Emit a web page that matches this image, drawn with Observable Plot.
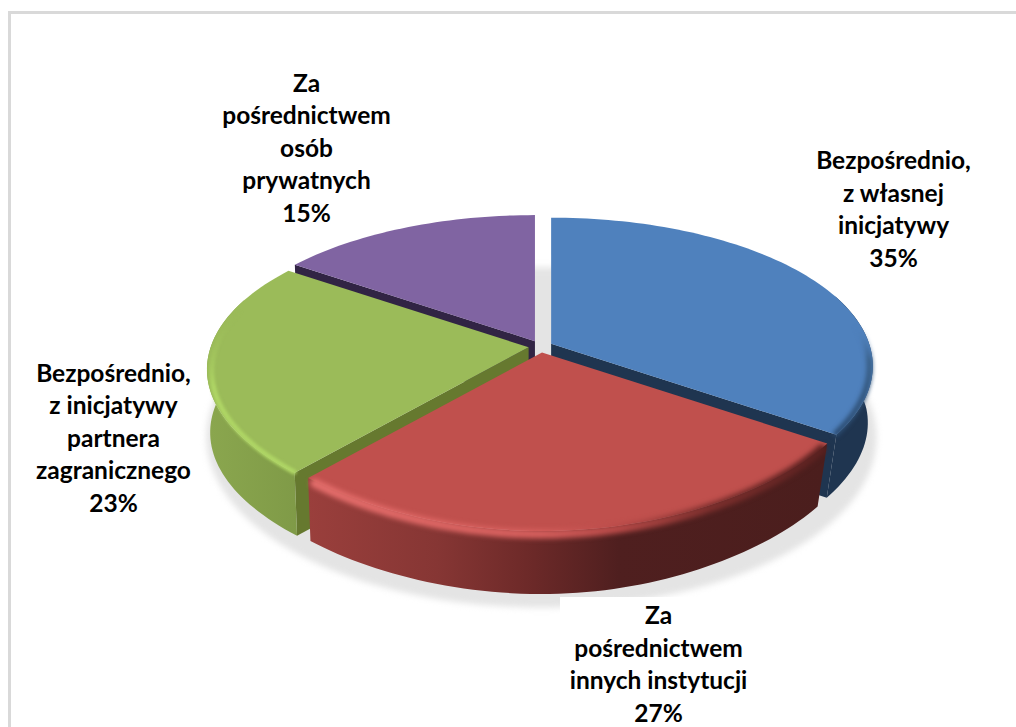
<!DOCTYPE html>
<html><head><meta charset="utf-8">
<script src="https://cdn.jsdelivr.net/npm/d3@7"></script>
<script src="https://cdn.jsdelivr.net/npm/@observablehq/plot@0.6"></script>
<style>
html,body{margin:0;padding:0;background:#fff;width:1016px;height:727px;overflow:hidden}
#frame{position:absolute;left:8px;top:11px;width:1100px;height:800px;border-left:3px solid #d9d9d9;border-top:3px solid #d9d9d9}
#chart{position:absolute;left:0;top:0}
</style></head><body>
<div id="frame"></div><div id="chart"></div>
<script>
// data
const categories = ["Bezpośrednio,\nz własnej\ninicjatywy","Za\npośrednictwem\ninnych instytucji","Bezpośrednio,\nz inicjatywy\npartnera\nzagranicznego","Za\npośrednictwem\nosób\nprywatnych"];
const values = [34.7,26.6,23.4,15.3];
const topColors = ["#4f81bd","#c0504d","#9bbb59","#8064a2"];
const sideColors = ["#1f3550","#5a2120","#66792f","#312444"];

// label placement (layout only)
const labelX = [893,658,113,306], labelY = [207,662,436,146];

// pie model
const cx=540, cy=346, R=318, T=145, k=0.15, H=63, ex=12, ey=6;
const total=d3.sum(values), rad=Math.PI/180;
let acc=0;
const slices=values.map((v,i)=>{const a0=acc/total*360; acc+=v; const a1=acc/total*360; const m=(a0+a1)/2;
  return {i,a0,a1,ox:cx+ex*Math.sin(m*rad),oy:cy-ey*Math.cos(m*rad)};});
const P=(s,a,r=1,h=0)=>{const c=Math.cos(a*rad),sn=Math.sin(a*rad),f=1/(1+k*c);
  const sq=h>=H&&sn>0&&c<0?1+0.042*c:1;               // lower rim tucks in on the right
  const bulge=c<0?8*Math.pow(-c,6)*r:0;               // nearest edge reads a little deeper
  return {x:s.ox+R*r*f*sn*(h?0.99:1)*sq,y:s.oy-T*r*f*c+bulge+h};};
const arc=(s,a0,a1,r=1,h=0)=>{const n=Math.max(2,Math.ceil(Math.abs(a1-a0)/1.5));
  return d3.range(n+1).map(j=>P(s,a0+(a1-a0)*j/n,r,h));};
const topPoly=s=>[{x:s.ox,y:s.oy},...arc(s,s.a0,s.a1)];
const wallPoly=s=>{const a=Math.max(s.a0,70),b=Math.min(s.a1,290); if(b<=a) return null;
  return [...arc(s,a,b),...arc(s,b,a,1,H)];};
const sidePoly=(s,a)=>[{x:s.ox,y:s.oy},P(s,a),P(s,a,1,H),{x:s.ox,y:s.oy+H}];
const shadow=d3.range(0,361,2).map(a=>({x:cx+1+335*Math.sin(a*rad),y:437-170*Math.cos(a*rad)}));

function gradient(defs,id,stops,x1,x2,y1=0,y2=0){
  const g=defs.append("linearGradient").attr("id",id).attr("gradientUnits","userSpaceOnUse")
    .attr("x1",x1).attr("x2",x2).attr("y1",y1).attr("y2",y2);
  stops.forEach(([o,c,op=1])=>g.append("stop").attr("offset",o).attr("stop-color",c).attr("stop-opacity",op));
}
const defsMark=()=>{const d=d3.create("svg:defs");
  gradient(d,"wallRed",[[0,"#9a3f3c"],[.25,"#863634"],[.42,"#6e2a29"],[.6,"#4f1f1f"],[1,"#4b1e1d"]],308,825);
  gradient(d,"wallGreen",[[0,"#8aa64e"],[1,"#7f9a47"]],210,300);
  gradient(d,"rimRed",[[0,"#e56e6c"],[.45,"#d65f5d"],[.6,"#b84a48"],[.78,"#7c2f2d"],[1,"#5a2120"]],308,825);
  gradient(d,"rimGreen",[[0,"#9bbb59",0],[.45,"#afd665"],[1,"#afd665"]],0,0,310,480);
  gradient(d,"rimBlue",[[0,"#4f81bd",0],[.3,"#3a6088"],[1,"#2a4a70"]],0,0,325,440);
  return d.node();};

const marks=[defsMark,
  Plot.line(shadow,{x:"x",y:"y",fill:"#e4e4e4",stroke:"none",imageFilter:"blur(3px)"})];
const poly=(pts,fill)=>Plot.line(pts,{x:"x",y:"y",fill,stroke:"none"});
const rim=(pts,stroke,w=6,b=1.6)=>Plot.line(pts,{x:"x",y:"y",stroke,strokeWidth:w,imageFilter:`blur(${b}px)`});

// painter's order: back to front
const [blue,red,green,purple]=slices;
marks.push(poly(sidePoly(purple,purple.a0),sideColors[3]),poly(topPoly(purple),topColors[3]));
marks.push(poly(wallPoly(blue),sideColors[0]),poly(sidePoly(blue,blue.a1),sideColors[0]),poly(topPoly(blue),topColors[0]),
  rim(arc(blue,70,blue.a1-1,1,1),"url(#rimBlue)",6,2));
marks.push(poly(sidePoly(green,green.a0),sideColors[2]),poly(wallPoly(green),"url(#wallGreen)"),poly(topPoly(green),topColors[2]),
  rim(arc(green,green.a0+1,290,.995,2),"url(#rimGreen)",5));
marks.push(poly(wallPoly(red),"url(#wallRed)"),poly(topPoly(red),topColors[1]),
  rim(arc(red,red.a0+1,red.a1-1,1,3),"url(#rimRed)",9,2.4));
// white box behind the lower label, which trims the shadow in the reference
marks.push(Plot.rect([{}],{x1:()=>560,x2:()=>770,y1:()=>597,y2:()=>727,fill:"#fff"}));
marks.push(Plot.text(values.map((v,i)=>({x:labelX[i],y:labelY[i],t:categories[i]+"\n"+Math.round(v)+"%"})),
  {x:"x",y:"y",text:"t",fontFamily:"Lato",fontWeight:700,fontSize:24.5,lineHeight:1.327,fill:"#000",textAnchor:"middle"}));

const chart=Plot.plot({width:1016,height:727,margin:0,
  x:{domain:[0,1016],range:[0,1016],axis:null},y:{domain:[0,727],range:[0,727],axis:null},
  style:{background:"transparent"},marks});
document.getElementById("chart").append(chart);
</script></body></html>
